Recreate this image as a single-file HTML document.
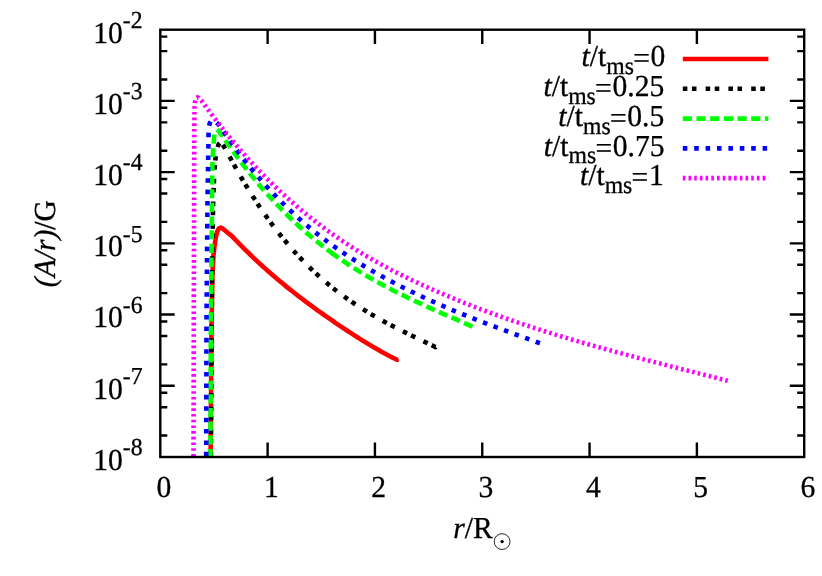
<!DOCTYPE html>
<html><head><meta charset="utf-8"><title>plot</title>
<style>
html,body{margin:0;padding:0;background:#fff;}
body{width:822px;height:576px;overflow:hidden;}
svg{display:block;will-change:transform;}
text{font-family:"Liberation Serif",serif;fill:#000;text-rendering:geometricPrecision;stroke:#000;stroke-width:0.3px;}
.i{font-style:italic;}
</style></head><body>
<svg width="822" height="576" viewBox="0 0 822 576">
<rect x="0" y="0" width="822" height="576" fill="#fff"/>
<defs><clipPath id="cp"><rect x="160.30" y="29.70" width="643.90" height="427.30"/></clipPath></defs>
<g clip-path="url(#cp)" fill="none" stroke-width="4.60" stroke-linejoin="round" stroke-linecap="butt">
<path d="M210.60 458.00 L211.50 328.75 L212.50 272.50 L213.50 255.00 L214.60 245.40 L215.80 237.50 L217.20 231.60 L218.90 228.40 L220.80 227.60 L222.60 228.60 L225.00 230.50 L228.00 233.10 L231.25 235.37 L233.11 237.35 L234.97 239.30 L236.83 241.24 L238.69 243.16 L240.55 245.06 L242.41 246.94 L244.27 248.80 L246.13 250.64 L247.99 252.47 L249.85 254.27 L251.71 256.06 L253.57 257.84 L255.43 259.59 L257.29 261.33 L259.15 263.06 L261.01 264.76 L262.87 266.46 L264.73 268.13 L266.59 269.79 L268.45 271.44 L270.31 273.07 L272.17 274.68 L274.03 276.29 L275.89 277.87 L277.75 279.45 L279.61 281.01 L281.47 282.56 L283.33 284.09 L285.19 285.61 L287.05 287.12 L288.91 288.62 L290.77 290.10 L292.63 291.57 L294.49 293.04 L296.35 294.49 L298.21 295.93 L300.07 297.35 L301.93 298.77 L303.79 300.18 L305.65 301.58 L307.51 302.97 L309.37 304.35 L311.23 305.72 L313.09 307.08 L314.96 308.43 L316.82 309.77 L318.68 311.11 L320.54 312.43 L322.40 313.75 L324.26 315.06 L326.12 316.37 L327.98 317.66 L329.84 318.95 L331.70 320.23 L333.56 321.51 L335.42 322.78 L337.28 324.04 L339.14 325.29 L341.00 326.54 L342.86 327.79 L344.72 329.03 L346.58 330.26 L348.44 331.48 L350.30 332.70 L352.16 333.91 L354.02 335.11 L355.88 336.30 L357.74 337.49 L359.60 338.67 L361.46 339.83 L363.32 340.99 L365.18 342.14 L367.04 343.27 L368.90 344.40 L370.76 345.51 L372.62 346.61 L374.48 347.70 L376.34 348.78 L378.20 349.85 L380.06 350.90 L381.92 351.94 L383.78 352.97 L385.64 353.98 L387.50 354.98 L389.36 355.96 L391.22 356.93 L393.08 357.88 L394.94 358.82 L396.80 359.74 L398.60 359.40" stroke="#ff0000"/>
<path d="M210.90 458.00 L211.60 330.00 L212.30 250.00 L213.20 200.00 L214.30 172.00 L215.50 158.40 L217.00 149.50 L218.60 144.30 L220.50 142.30 L222.30 143.80 L224.50 147.50 L227.50 153.00 L230.30 157.96 L232.61 162.22 L234.91 166.40 L237.22 170.51 L239.53 174.55 L241.83 178.52 L244.14 182.42 L246.45 186.25 L248.75 190.01 L251.06 193.70 L253.37 197.33 L255.67 200.89 L257.98 204.38 L260.29 207.81 L262.59 211.18 L264.90 214.49 L267.21 217.73 L269.51 220.91 L271.82 224.04 L274.13 227.10 L276.43 230.11 L278.74 233.06 L281.05 235.95 L283.36 238.78 L285.66 241.57 L287.97 244.30 L290.28 246.97 L292.58 249.60 L294.89 252.17 L297.20 254.69 L299.50 257.16 L301.81 259.59 L304.12 261.96 L306.42 264.30 L308.73 266.58 L311.04 268.82 L313.34 271.01 L315.65 273.17 L317.96 275.28 L320.26 277.34 L322.57 279.37 L324.88 281.36 L327.18 283.31 L329.49 285.22 L331.80 287.09 L334.10 288.93 L336.41 290.73 L338.72 292.50 L341.02 294.23 L343.33 295.93 L345.64 297.60 L347.94 299.24 L350.25 300.84 L352.56 302.42 L354.86 303.97 L357.17 305.49 L359.48 306.99 L361.78 308.46 L364.09 309.90 L366.40 311.32 L368.70 312.72 L371.01 314.10 L373.32 315.45 L375.62 316.78 L377.93 318.10 L380.24 319.39 L382.54 320.67 L384.85 321.92 L387.16 323.17 L389.47 324.39 L391.77 325.61 L394.08 326.81 L396.39 327.99 L398.69 329.17 L401.00 330.33 L403.31 331.48 L405.61 332.63 L407.92 333.76 L410.23 334.89 L412.53 336.01 L414.84 337.13 L417.15 338.24 L419.45 339.35 L421.76 340.45 L424.07 341.55 L426.37 342.65 L428.68 343.75 L430.99 344.85 L433.29 345.95 L435.60 347.05 L436.60 345.90" stroke="#000000" stroke-dasharray="4.560 4.560 4.560 9.120" stroke-dashoffset="8.00"/>
<path d="M210.40 458.00 L210.85 320.00 L211.70 239.00 L212.30 166.00 L213.10 150.00 L213.90 140.00 L214.40 134.00 L215.00 131.20" stroke="#00ff00" stroke-dasharray="9.120 4.560" stroke-dashoffset="0.20"/>
<path d="M215.00 131.20 L215.80 129.60 L216.70 128.90 L217.70 129.90 L219.15 131.75 L221.00 134.30 L222.50 136.05 L225.31 140.19 L228.13 144.26 L230.94 148.26 L233.76 152.20 L236.57 156.06 L239.39 159.86 L242.20 163.59 L245.02 167.26 L247.83 170.86 L250.65 174.40 L253.46 177.88 L256.28 181.29 L259.09 184.65 L261.90 187.94 L264.72 191.18 L267.53 194.35 L270.35 197.47 L273.16 200.53 L275.98 203.54 L278.79 206.49 L281.61 209.39 L284.42 212.24 L287.24 215.03 L290.05 217.77 L292.87 220.47 L295.68 223.11 L298.49 225.70 L301.31 228.25 L304.12 230.74 L306.94 233.20 L309.75 235.60 L312.57 237.96 L315.38 240.28 L318.20 242.56 L321.01 244.79 L323.83 246.98 L326.64 249.13 L329.46 251.25 L331.78 252.96 L332.27 253.32 L333.40 254.14" stroke="#00ff00" stroke-dasharray="9.069 4.535" stroke-dashoffset="9.94"/>
<path d="M331.78 252.96 L332.27 253.32 L333.40 254.14 L335.08 255.36 L337.90 257.36 L340.71 259.32 L343.53 261.25 L346.34 263.14 L349.16 265.01 L351.97 266.83 L354.79 268.63 L357.60 270.40 L360.42 272.13 L363.23 273.84 L366.04 275.52 L368.86 277.17 L371.67 278.79 L374.49 280.39 L377.30 281.97 L380.12 283.52 L382.93 285.05 L385.75 286.55 L388.56 288.03 L391.38 289.50 L394.19 290.94 L397.01 292.37 L399.82 293.77 L402.63 295.16 L405.45 296.54 L408.26 297.89 L411.08 299.24 L413.89 300.57 L416.71 301.88 L419.52 303.19 L422.34 304.48 L425.15 305.77 L427.97 307.04 L430.78 308.31 L433.60 309.56 L436.41 310.81 L439.22 312.06 L442.04 313.30 L444.85 314.54 L447.67 315.77 L450.48 317.00 L453.30 318.23 L456.11 319.45 L458.93 320.68 L461.74 321.91 L464.56 323.14 L467.37 324.37 L470.19 325.61 L473.00 326.85" stroke="#00ff00" stroke-dasharray="9.136 4.568" stroke-dashoffset="0.75"/>
<path d="M206.20 458.00 L206.50 320.00 L207.50 200.00 L208.30 150.00 L208.60 132.00 L209.00 126.50 L209.80 123.00 L211.00 121.10 L212.60 120.50" stroke="#0000ff" stroke-dasharray="4.560 6.840" stroke-dashoffset="9.80"/>
<path d="M212.60 120.50 L214.40 121.10 L216.20 122.40 L217.80 123.80 L219.50 125.71 L223.13 131.06 L226.76 136.29 L230.39 141.41 L234.02 146.41 L237.65 151.29 L241.28 156.06 L244.91 160.72 L248.54 165.28 L252.17 169.73 L255.80 174.07 L259.43 178.32 L263.06 182.46 L266.69 186.51 L270.32 190.46 L273.96 194.32 L277.59 198.08 L281.22 201.76 L284.85 205.35 L288.48 208.85 L292.11 212.28 L295.74 215.62 L299.37 218.88 L303.00 222.06 L306.63 225.17 L310.26 228.21 L313.21 230.62" stroke="#0000ff" stroke-dasharray="4.566 6.849" stroke-dashoffset="6.88"/>
<path d="M313.21 230.62 L313.89 231.18 L317.52 234.08 L321.15 236.91 L324.78 239.67 L328.41 242.38 L332.04 245.02 L335.67 247.61 L339.30 250.14 L342.93 252.61 L346.56 255.04 L350.19 257.41 L353.82 259.73 L357.45 262.01 L361.08 264.25 L364.71 266.44 L368.34 268.60 L371.97 270.71 L375.60 272.79 L379.23 274.84 L382.87 276.85 L386.50 278.83 L390.13 280.78 L393.76 282.69 L397.39 284.58 L401.02 286.44 L404.65 288.26 L408.28 290.06 L411.91 291.84 L415.54 293.58 L419.17 295.30 L422.80 297.00 L426.43 298.67 L430.06 300.32 L433.69 301.95 L437.32 303.55 L440.95 305.14 L444.58 306.70 L448.21 308.25 L451.84 309.77 L455.47 311.28 L459.10 312.77 L462.73 314.25 L466.36 315.71 L469.99 317.15 L473.62 318.59 L477.25 320.01 L480.88 321.41 L484.51 322.81 L488.14 324.19 L491.78 325.57 L495.41 326.93 L499.04 328.29 L502.67 329.64 L506.30 330.99 L509.93 332.33 L513.56 333.66 L517.19 334.99 L520.82 336.32 L524.45 337.64 L528.08 338.96 L531.71 340.28 L535.34 341.60 L538.97 342.92 L542.60 344.24" stroke="#0000ff" stroke-dasharray="4.492 6.737" stroke-dashoffset="8.35"/>
<path d="M193.50 458.00 L193.80 300.00 L194.10 200.00 L194.30 130.00 L194.50 108.00 L194.90 102.50 L195.60 99.50 L196.50 97.90 L197.50 97.30 L198.70 97.80 L200.20 99.40 L201.70 100.95 L207.64 109.12 L213.59 117.05 L219.53 124.76 L225.47 132.24 L231.41 139.51 L237.36 146.55 L243.30 153.40 L249.24 160.03 L255.18 166.47 L261.13 172.71 L267.07 178.76 L273.01 184.62 L278.96 190.30 L284.90 195.81 L290.84 201.15 L296.78 206.32 L302.73 211.32 L308.67 216.17 L314.61 220.87 L320.55 225.41 L326.50 229.82 L332.44 234.09 L338.38 238.22 L344.32 242.22 L350.27 246.10 L356.21 249.86 L362.15 253.50 L368.10 257.04 L374.04 260.47 L379.98 263.79 L385.92 267.03 L391.87 270.17 L397.81 273.22 L403.75 276.19 L409.69 279.09 L415.64 281.91 L421.58 284.66 L427.52 287.35 L433.47 289.99 L439.41 292.56 L445.35 295.09 L451.29 297.58 L457.24 300.01 L463.18 302.40 L469.12 304.75 L475.06 307.05 L481.01 309.32 L486.95 311.54 L492.89 313.72 L498.83 315.86 L504.78 317.97 L510.72 320.04 L516.66 322.08 L522.61 324.08 L528.55 326.05 L534.49 327.98 L540.43 329.89 L546.38 331.77 L552.32 333.62 L558.26 335.44 L564.20 337.23 L570.15 339.01 L576.09 340.75 L582.03 342.48 L587.98 344.18 L593.92 345.86 L599.86 347.53 L605.80 349.17 L611.75 350.80 L617.69 352.41 L623.63 354.01 L629.57 355.60 L635.52 357.17 L641.46 358.73 L647.40 360.28 L653.34 361.82 L659.29 363.35 L665.23 364.88 L671.17 366.40 L677.12 367.92 L683.06 369.43 L689.00 370.94 L694.94 372.45 L700.89 373.96 L706.83 375.47 L712.77 376.98 L718.71 378.50 L724.66 380.02 L730.60 381.54" stroke="#ff00ff" stroke-dasharray="2.600 3.100" stroke-dashoffset="4.20"/>
</g>
<path d="M267.62 457.00 V442.60 M267.62 29.70 V44.10 M374.93 457.00 V442.60 M374.93 29.70 V44.10 M482.25 457.00 V442.60 M482.25 29.70 V44.10 M589.57 457.00 V442.60 M589.57 29.70 V44.10 M696.88 457.00 V442.60 M696.88 29.70 V44.10 M160.30 36.60 H167.30 M804.20 36.60 H797.20 M160.30 51.14 H167.30 M804.20 51.14 H797.20 M160.30 79.48 H167.30 M804.20 79.48 H797.20 M160.30 100.92 H174.70 M804.20 100.92 H789.80 M160.30 107.82 H167.30 M804.20 107.82 H797.20 M160.30 122.36 H167.30 M804.20 122.36 H797.20 M160.30 150.69 H167.30 M804.20 150.69 H797.20 M160.30 172.13 H174.70 M804.20 172.13 H789.80 M160.30 179.03 H167.30 M804.20 179.03 H797.20 M160.30 193.57 H167.30 M804.20 193.57 H797.20 M160.30 221.91 H167.30 M804.20 221.91 H797.20 M160.30 243.35 H174.70 M804.20 243.35 H789.80 M160.30 250.25 H167.30 M804.20 250.25 H797.20 M160.30 264.79 H167.30 M804.20 264.79 H797.20 M160.30 293.13 H167.30 M804.20 293.13 H797.20 M160.30 314.57 H174.70 M804.20 314.57 H789.80 M160.30 321.47 H167.30 M804.20 321.47 H797.20 M160.30 336.01 H167.30 M804.20 336.01 H797.20 M160.30 364.34 H167.30 M804.20 364.34 H797.20 M160.30 385.78 H174.70 M804.20 385.78 H789.80 M160.30 392.68 H167.30 M804.20 392.68 H797.20 M160.30 407.22 H167.30 M804.20 407.22 H797.20 M160.30 435.56 H167.30 M804.20 435.56 H797.20" stroke="#000" stroke-width="2.40" fill="none"/>
<rect x="160.30" y="29.70" width="643.90" height="427.30" fill="none" stroke="#000" stroke-width="2.40"/>
<text transform="translate(142.6 42.55) scale(1 1.030)" font-size="29.60" text-anchor="end">10<tspan dy="-14.17" font-size="23.68">-2</tspan></text>
<text transform="translate(142.6 113.77) scale(1 1.030)" font-size="29.60" text-anchor="end">10<tspan dy="-14.17" font-size="23.68">-3</tspan></text>
<text transform="translate(142.6 184.98) scale(1 1.030)" font-size="29.60" text-anchor="end">10<tspan dy="-14.17" font-size="23.68">-4</tspan></text>
<text transform="translate(142.6 256.20) scale(1 1.030)" font-size="29.60" text-anchor="end">10<tspan dy="-14.17" font-size="23.68">-5</tspan></text>
<text transform="translate(142.6 327.42) scale(1 1.030)" font-size="29.60" text-anchor="end">10<tspan dy="-14.17" font-size="23.68">-6</tspan></text>
<text transform="translate(142.6 398.63) scale(1 1.030)" font-size="29.60" text-anchor="end">10<tspan dy="-14.17" font-size="23.68">-7</tspan></text>
<text transform="translate(142.6 469.85) scale(1 1.030)" font-size="29.60" text-anchor="end">10<tspan dy="-14.17" font-size="23.68">-8</tspan></text>
<text transform="translate(164.00 496.9) scale(1 1.030)" font-size="29.60" text-anchor="middle">0</text>
<text transform="translate(271.32 496.9) scale(1 1.030)" font-size="29.60" text-anchor="middle">1</text>
<text transform="translate(378.63 496.9) scale(1 1.030)" font-size="29.60" text-anchor="middle">2</text>
<text transform="translate(485.95 496.9) scale(1 1.030)" font-size="29.60" text-anchor="middle">3</text>
<text transform="translate(593.27 496.9) scale(1 1.030)" font-size="29.60" text-anchor="middle">4</text>
<text transform="translate(700.58 496.9) scale(1 1.030)" font-size="29.60" text-anchor="middle">5</text>
<text transform="translate(807.90 496.9) scale(1 1.030)" font-size="29.60" text-anchor="middle">6</text>
<text transform="translate(453.2 538.15) scale(1 1.030)" font-size="29.60"><tspan class="i">r</tspan>/R</text>
<circle cx="502.1" cy="541.6" r="7.9" fill="none" stroke="#000" stroke-width="0.85"/><circle cx="502.1" cy="541.6" r="1.7" fill="#000"/>
<text transform="translate(55.2 243.6) rotate(-90) scale(1 1.030)" font-size="29.60" text-anchor="middle"><tspan class="i">(A/r)</tspan>/G</text>
<path d="M682.8 59.06 H768.4" stroke="#ff0000" stroke-width="4.60" fill="none"/>
<text transform="translate(665.40 66.41) scale(1 1.030)" font-size="29.60" text-anchor="end"><tspan class="i">t</tspan>/t<tspan dy="7.48" font-size="23.68">ms</tspan><tspan dy="-5.63" dx="-0.7" font-size="29.60">=</tspan><tspan dy="-1.84" dx="0.7">0</tspan></text>
<path d="M682.8 88.82 H768.4" stroke="#000000" stroke-width="4.60" fill="none" stroke-dasharray="4.56 4.56 4.56 9.12"/>
<text transform="translate(664.30 96.17) scale(1 1.030)" font-size="29.60" text-anchor="end"><tspan class="i">t</tspan>/t<tspan dy="7.48" font-size="23.68">ms</tspan><tspan dy="-5.63" dx="-0.7" font-size="29.60">=</tspan><tspan dy="-1.84" dx="0.7">0.25</tspan></text>
<path d="M682.8 118.58 H768.4" stroke="#00ff00" stroke-width="4.60" fill="none" stroke-dasharray="9.12 4.56"/>
<text transform="translate(664.30 125.93) scale(1 1.030)" font-size="29.60" text-anchor="end"><tspan class="i">t</tspan>/t<tspan dy="7.48" font-size="23.68">ms</tspan><tspan dy="-5.63" dx="-0.7" font-size="29.60">=</tspan><tspan dy="-1.84" dx="0.7">0.5</tspan></text>
<path d="M682.8 148.34 H768.4" stroke="#0000ff" stroke-width="4.60" fill="none" stroke-dasharray="4.56 6.84"/>
<text transform="translate(664.60 155.69) scale(1 1.030)" font-size="29.60" text-anchor="end"><tspan class="i">t</tspan>/t<tspan dy="7.48" font-size="23.68">ms</tspan><tspan dy="-5.63" dx="-0.7" font-size="29.60">=</tspan><tspan dy="-1.84" dx="0.7">0.75</tspan></text>
<path d="M682.8 178.10 H768.4" stroke="#ff00ff" stroke-width="4.60" fill="none" stroke-dasharray="2.60 3.10"/>
<text transform="translate(663.80 185.45) scale(1 1.030)" font-size="29.60" text-anchor="end"><tspan class="i">t</tspan>/t<tspan dy="7.48" font-size="23.68">ms</tspan><tspan dy="-5.63" dx="-0.7" font-size="29.60">=</tspan><tspan dy="-1.84" dx="0.7">1</tspan></text>
</svg></body></html>
